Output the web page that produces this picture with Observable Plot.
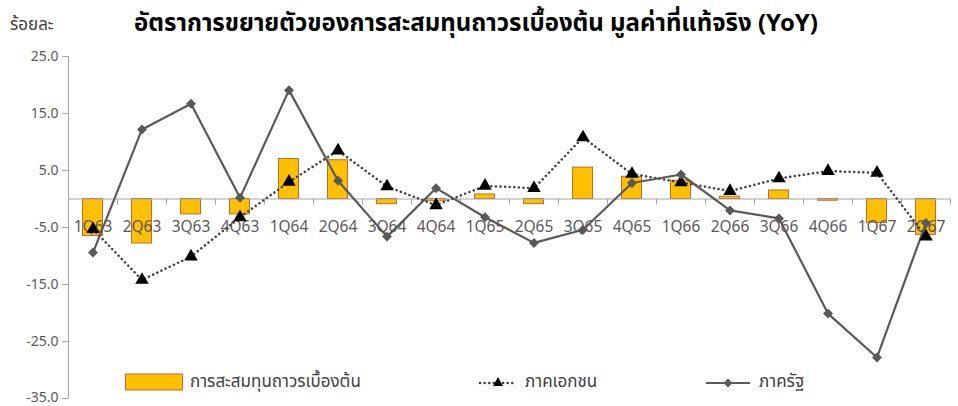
<!DOCTYPE html>
<html>
<head>
<meta charset="utf-8">
<script src="https://cdn.jsdelivr.net/npm/d3@7"></script>
<script src="https://cdn.jsdelivr.net/npm/@observablehq/plot@0.6"></script>
<style>
  body { margin: 0; background: #fff; font-family: "Noto Sans Thai", "Leelawadee UI", Tahoma, "Noto Sans", sans-serif; }
  #wrap { position: relative; width: 958px; height: 406px; overflow: hidden; }
  #unit { position: absolute; left: 10px; top: 12px; font-size: 17px; color: #404040; }
  #title { position: absolute; left: 0; width: 952px; top: 7px; text-align: center; font-size: 24px; font-weight: bold; color: #000; line-height: 34px; }
  #chart { position: absolute; left: 0; top: 40px; }
  .leg { position: absolute; top: 369px; display: flex; align-items: center; font-size: 17px; color: #404040; }
  .leg svg { margin-right: 7px; }
</style>
</head>
<body>
<div id="wrap">
  <div id="unit">ร้อยละ</div>
  <div id="title">อัตราการขยายตัวของการสะสมทุนถาวรเบื้องต้น มูลค่าที่แท้จริง (YoY)</div>
  <div id="chart"></div>
  <div class="leg" style="left:125px"><svg width="58" height="18"><rect x="0.5" y="1" width="57" height="16" fill="#FFC000" stroke="#BF6A2E"/></svg>การสะสมทุนถาวรเบื้องต้น</div>
  <div class="leg" style="left:478px"><svg width="40" height="18"><line x1="2" y1="10" x2="38" y2="10" stroke="#404040" stroke-width="2.5" stroke-dasharray="0.1 4.5" stroke-linecap="round"/><path d="M20,4 L25,13 L15,13 Z" fill="#000"/></svg>ภาคเอกชน</div>
  <div class="leg" style="left:706px"><svg width="46" height="18"><line x1="0" y1="10" x2="44" y2="10" stroke="#595959" stroke-width="2"/><path d="M22,5.5 L26.5,10 L22,14.5 L17.5,10 Z" fill="#595959"/></svg>ภาครัฐ</div>
</div>
<script>
const categories = ["1Q63","2Q63","3Q63","4Q63","1Q64","2Q64","3Q64","4Q64","1Q65","2Q65","3Q65","4Q65","1Q66","2Q66","3Q66","4Q66","1Q67","2Q67"];
const totalGFCF = [-6.5,-7.8,-2.7,-2.7,7.0,6.8,-0.9,-0.4,0.8,-0.9,5.5,3.9,3.2,0.4,1.5,-0.3,-4.2,-6.3];
const privateSector = [-5.3,-14.2,-10.1,-3.2,3.0,8.5,2.2,-1.1,2.3,1.9,10.8,4.4,2.9,1.4,3.6,4.9,4.6,-6.6];
const publicSector = [-9.4,12.2,16.7,0.2,19.1,3.2,-6.6,1.9,-3.2,-7.7,-5.4,2.8,4.3,-2.0,-3.4,-20.1,-27.8,-4.2];
const yTicks = [25,15,5,-5,-15,-25,-35];

const data = categories.map((c, i) => ({q: c, total: totalGFCF[i], priv: privateSector[i], pub: publicSector[i]}));

const W = 958, H = 366, mL = 68, mR = 8;
const bw = (W - mL - mR) / categories.length;

const chart = Plot.plot({
  width: W,
  height: H,
  marginTop: 16,
  marginBottom: 8,
  marginLeft: mL,
  marginRight: mR,
  style: {fontFamily: '"Noto Sans Thai", "Leelawadee UI", Tahoma, "Noto Sans", sans-serif', fontSize: "14px", color: "#595959", background: "transparent", overflow: "visible"},
  x: {type: "band", domain: categories, padding: 0, axis: null},
  y: {domain: [-35, 25], axis: null},
  marks: [
    Plot.axisY({ticks: yTicks, tickFormat: d3.format(".1f"), tickSize: 6, tickPadding: 4, label: null, stroke: "#A6A6A6"}),
    Plot.ruleX([0], {x: () => categories[0], y1: -35, y2: 25, dx: -bw / 2, stroke: "#A6A6A6", strokeWidth: 1}),
    Plot.barY(data, {x: "q", y: "total", fill: "#FFC000", stroke: "#BF6A2E", strokeWidth: 1, insetLeft: 14.5, insetRight: 14.5}),
    Plot.ruleY([0], {stroke: "#A6A6A6", strokeWidth: 1.2}),
    Plot.ruleX(categories, {x: d => d, y1: 0, y2: 0, insetBottom: -6, dx: -bw / 2, stroke: "#A6A6A6"}),
    Plot.ruleX([categories[categories.length - 1]], {x: d => d, y1: 0, y2: 0, insetBottom: -6, dx: bw / 2, stroke: "#A6A6A6"}),
    Plot.text(categories, {x: d => d, y: () => -5, text: d => d, fill: "#595959", fontSize: 15.5}),
    Plot.line(data, {x: "q", y: "priv", stroke: "#404040", strokeWidth: 2.5, strokeDasharray: "0.1 4.5", strokeLinecap: "round"}),
    Plot.line(data, {x: "q", y: "pub", stroke: "#595959", strokeWidth: 2.2}),
    Plot.dot(data, {x: "q", y: "priv", symbol: "triangle", r: 5, fill: "#000"}),
    Plot.dot(data, {x: "q", y: "pub", symbol: "diamond2", r: 4.5, fill: "#595959"})
  ]
});
// nudge the lowest tick label up slightly so it stays inside the page
chart.querySelectorAll("text").forEach(t => {
  if (t.textContent.trim().endsWith("35.0")) t.setAttribute("dy", "-0.05em");
});
document.getElementById("chart").appendChild(chart);
</script>
</body>
</html>
